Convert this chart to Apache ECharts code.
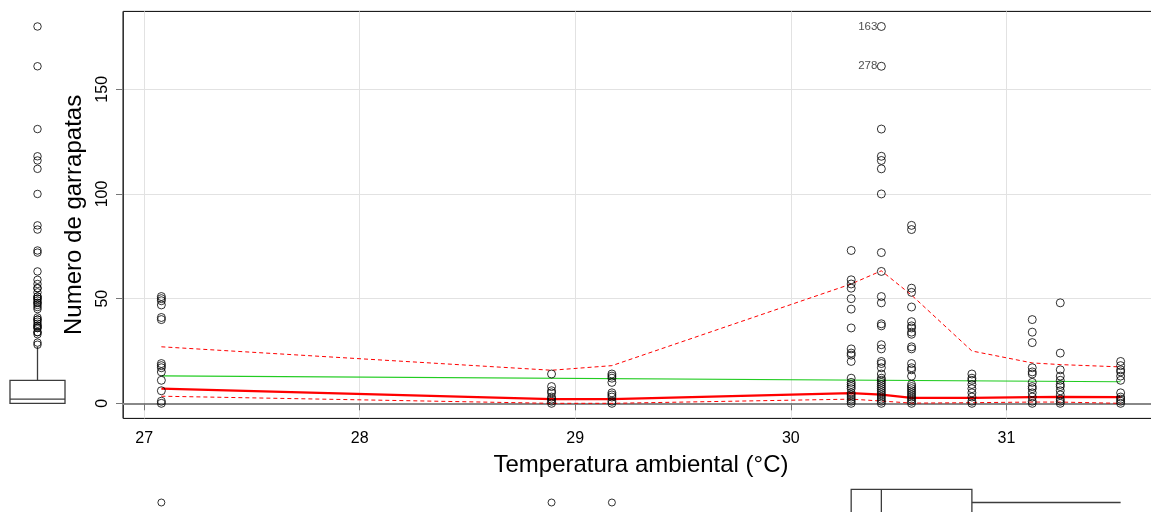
<!DOCTYPE html>
<html><head><meta charset="utf-8">
<script src="https://cdn.jsdelivr.net/npm/echarts@6/dist/echarts.min.js"></script>
<style>html,body{margin:0;padding:0;background:#fff;overflow:hidden;width:1151px;height:512px;}#c{width:1162px;height:530px;}</style>
</head><body><div id="c"></div>
<script>
// ---- data ----
const temps = [27.08, 28.89, 29.17, 30.28, 30.42, 30.56, 30.84, 31.12, 31.25, 31.53];
const ticks_27_08 = [51, 50, 49, 47, 41, 40, 19, 18, 17, 15, 11, 6, 1, 0];
const ticks_28_89 = [14, 8, 6, 5, 3, 2, 1, 0];
const ticks_29_17 = [14, 13, 12, 10, 5, 4, 3, 1, 0];
const ticks_30_28 = [73, 59, 57, 55, 50, 45, 36, 26, 24, 23, 20, 12, 10, 9, 8, 7, 5, 4, 3, 2, 1, 0];
const ticks_30_42 = [180, 161, 131, 118, 116, 112, 100, 72, 63, 51, 48, 38, 37, 28, 26, 20, 19, 17, 14, 12, 11, 10, 9, 8, 7, 6, 5, 4, 3, 2, 1, 0];
const ticks_30_56 = [85, 83, 55, 53, 46, 39, 37, 36, 34, 33, 27, 26, 19, 17, 16, 13, 9, 8, 7, 6, 5, 4, 3, 2, 1, 0];
const ticks_30_84 = [14, 12, 11, 9, 7, 5, 3, 1, 0];
const ticks_31_12 = [40, 34, 29, 17, 15, 14, 10, 8, 7, 5, 3, 1, 0];
const ticks_31_25 = [48, 24, 16, 13, 11, 9, 8, 6, 4, 2, 1, 0];
const ticks_31_53 = [20, 18, 16, 15, 13, 11, 5, 3, 2, 1, 0];
const smoothMid   = [7.0, 2.0, 2.0, 4.9, 4.2, 2.6, 2.6, 3.0, 3.1, 3.0];
const smoothUpper = [27.0, 15.8, 18.0, 57.0, 63.3, 51.7, 25.0, 19.3, 18.5, 17.4];
const smoothLower = [3.4, 0.0, 0.0, 2.0, 1.1, 0.1, 0.3, 0.6, 0.6, 0.0];
const fitX = [27.08, 31.53];
const fitY = [13.1, 10.3];
const labelIds = ['163', '278'];
const labelTemps = [30.42, 30.42];
const labelValues = [180, 161];
const yBoxStats = [0, 0, 2, 11, 27];               // whisker lo, Q1, median, Q3, whisker hi
const xBoxStats = [30.28, 30.28, 30.42, 30.84, 31.53];
const xTickValues = [27, 28, 29, 30, 31];
const yTickValues = [0, 50, 100, 150];
const xTitle = 'Temperatura ambiental (°C)';
const yTitle = 'Numero de garrapatas';

// ---- build ----
const columns = [ticks_27_08, ticks_28_89, ticks_29_17, ticks_30_28, ticks_30_42,
                 ticks_30_56, ticks_30_84, ticks_31_12, ticks_31_25, ticks_31_53];
const points = [];
columns.forEach((col, i) => col.forEach(v => points.push([temps[i], v])));
const xs = points.map(p => p[0]), ys = points.map(p => p[1]);
const xMinD = Math.min(...xs), xMaxD = Math.max(...xs);
const yMinD = Math.min(...ys), yMaxD = Math.max(...ys);
const xPad = 0.04 * (xMaxD - xMinD), yPad = 0.04 * (yMaxD - yMinD);
const xMin = xMinD - xPad, xMax = xMaxD + xPad;
const yMin = yMinD - yPad, yMax = yMaxD + yPad;

const FONT = "'Liberation Sans',Arial,sans-serif";

const G = {left: 123, top: 11.4, width: 1036, height: 407};

function boxRenderer(stats, vertical, center, halfW) {
  return function (params, api) {
    const [lo, q1, med, q3, hi] = stats;
    const P = vertical ? (v, o) => api.coord([center + o, v]) : (v, o) => api.coord([v, center + o]);
    const style = {stroke: '#3c3c3c', lineWidth: 1.3, fill: null};
    const a = P(q1, -halfW), b = P(q3, halfW);
    const line = (p1, p2) => ({type: 'line', shape: {x1: p1[0], y1: p1[1], x2: p2[0], y2: p2[1]}, style});
    return {
      type: 'group',
      children: [
        {type: 'rect', shape: {x: Math.min(a[0], b[0]), y: Math.min(a[1], b[1]),
          width: Math.abs(b[0] - a[0]), height: Math.abs(b[1] - a[1])}, style},
        line(P(med, -halfW), P(med, halfW)),
        line(P(q3, 0), P(hi, 0)),
        line(P(lo, 0), P(q1, 0))
      ]
    };
  };
}

const circle = {color: 'rgba(0,0,0,0)', borderColor: '#000', borderWidth: 1};
const uniq = a => Array.from(new Set(a));

const option = {
  animation: false,
  backgroundColor: '#fff',
  grid: [
    Object.assign({show: true, borderColor: '#000', borderWidth: 1, backgroundColor: 'transparent'}, G),
    {left: 0, top: G.top, width: 75, height: G.height},
    {left: G.left, top: 489.3, width: G.width, height: 26.4}
  ],
  xAxis: [
    {gridIndex: 0, type: 'value', min: xMin, max: xMax,
     name: xTitle, nameLocation: 'middle', nameGap: 35,
     nameTextStyle: {fontFamily: FONT, fontSize: 24, color: '#000'},
     axisLine: {show: true, lineStyle: {color: '#888', width: 2}},
     axisTick: {show: true, length: 7, customValues: xTickValues, lineStyle: {color: '#777'}},
     axisLabel: {customValues: xTickValues, margin: 12, fontFamily: FONT, fontSize: 16, color: '#000'},
     splitLine: {show: true, lineStyle: {color: '#e2e2e2', width: 1}}},
    {gridIndex: 1, type: 'value', min: 0, max: 1, show: false},
    {gridIndex: 2, type: 'value', min: xMin, max: xMax, show: false}
  ],
  yAxis: [
    {gridIndex: 0, type: 'value', min: yMin, max: yMax,
     name: yTitle, nameLocation: 'middle', nameGap: 37, nameRotate: 90,
     nameTextStyle: {fontFamily: FONT, fontSize: 24, color: '#000'},
     axisLine: {show: true, lineStyle: {color: '#333', width: 1}},
     axisTick: {show: true, length: 7, customValues: yTickValues, lineStyle: {color: '#777'}},
     axisLabel: {customValues: yTickValues, rotate: 90, margin: 12, fontFamily: FONT, fontSize: 16, color: '#000'},
     splitLine: {show: true, lineStyle: {color: '#e2e2e2', width: 1}}},
    {gridIndex: 1, type: 'value', min: yMin, max: yMax, show: false},
    {gridIndex: 2, type: 'value', min: 0, max: 1, show: false}
  ],
  series: [
    {type: 'scatter', xAxisIndex: 0, yAxisIndex: 0, data: points, symbol: 'circle', symbolSize: 8,
     itemStyle: circle, z: 5, silent: true},
    {type: 'scatter', xAxisIndex: 0, yAxisIndex: 0, symbolSize: 0, z: 6, silent: true,
     data: labelValues.map((v, i) => ({value: [labelTemps[i], v], name: labelIds[i]})),
     label: {show: true, position: 'left', distance: 4, formatter: p => p.name,
             fontFamily: FONT, fontSize: 11.5, color: '#222'}},
    {type: 'line', xAxisIndex: 0, yAxisIndex: 0, data: fitX.map((x, i) => [x, fitY[i]]),
     showSymbol: false, lineStyle: {color: '#22cc22', width: 1.2}, z: 3, silent: true},
    {type: 'line', xAxisIndex: 0, yAxisIndex: 0, data: temps.map((x, i) => [x, smoothMid[i]]),
     showSymbol: false, lineStyle: {color: '#ff0000', width: 2.2}, z: 4, silent: true},
    {type: 'line', xAxisIndex: 0, yAxisIndex: 0, data: temps.map((x, i) => [x, smoothUpper[i]]),
     showSymbol: false, lineStyle: {color: '#ff0000', width: 1, type: [4, 3]}, z: 4, silent: true},
    {type: 'line', xAxisIndex: 0, yAxisIndex: 0, data: temps.map((x, i) => [x, smoothLower[i]]),
     showSymbol: false, lineStyle: {color: '#ff0000', width: 1, type: [4, 3]}, z: 4, silent: true},
    // left marginal boxplot (y)
    {type: 'custom', xAxisIndex: 1, yAxisIndex: 1, data: [[0.5, yBoxStats[2]]],
     renderItem: boxRenderer(yBoxStats, true, 0.5, 0.3667), silent: true},
    {type: 'scatter', xAxisIndex: 1, yAxisIndex: 1, symbolSize: 7.5, itemStyle: circle, silent: true,
     data: ys.filter(v => v > yBoxStats[4] || v < yBoxStats[0]).map(v => [0.5, v])},
    // bottom marginal boxplot (x)
    {type: 'custom', xAxisIndex: 2, yAxisIndex: 2, data: [[xBoxStats[2], 0.5]],
     renderItem: boxRenderer(xBoxStats, false, 0.5, 0.5), silent: true},
    {type: 'scatter', xAxisIndex: 2, yAxisIndex: 2, symbolSize: 7, itemStyle: circle, silent: true,
     data: uniq(xs.filter(v => v < xBoxStats[0] || v > xBoxStats[4])).map(v => [v, 0.5])}
  ]
};
const chart = echarts.init(document.getElementById('c'), null, {renderer: 'canvas'});
chart.setOption(option);
</script></body></html>
